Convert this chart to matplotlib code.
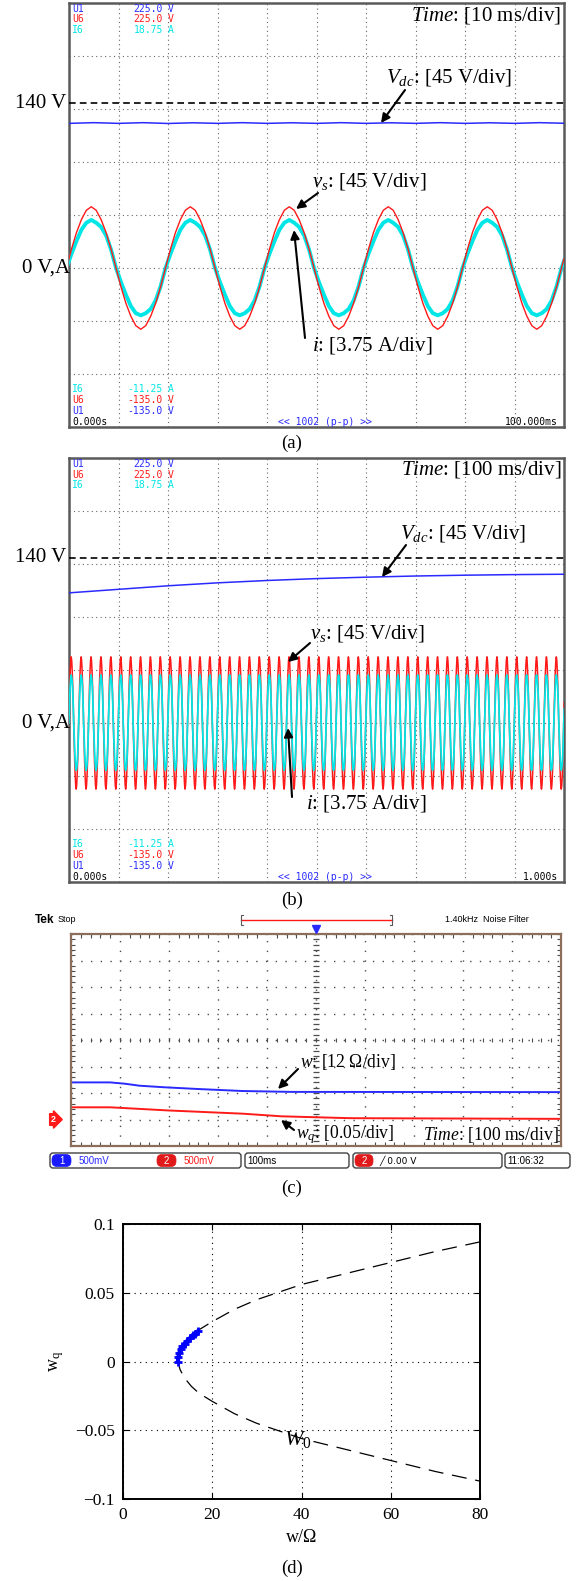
import matplotlib
matplotlib.use('Agg')
import matplotlib.pyplot as plt
import numpy as np
from matplotlib.patches import FancyBboxPatch

plt.rcParams['font.family'] = ['Liberation Serif', 'DejaVu Sans']
plt.rcParams['mathtext.fontset'] = 'custom'
plt.rcParams['mathtext.rm'] = 'Liberation Serif'
plt.rcParams['mathtext.it'] = 'Liberation Serif:italic'
plt.rcParams['mathtext.bf'] = 'Liberation Serif:bold'

W, H = 583, 1581

# ---------------- data ----------------
# (a)/(b): one 50 Hz cycle of source voltage and current, 1 ms steps
vs_cycle = [0, 16, 30, 41, 49, 52, 49, 41, 30, 16,
            0, -16, -30, -41, -49, -52, -49, -41, -30, -16]          # V
i_cycle = [0, 1.0, 1.9, 2.7, 3.2, 3.4, 3.2, 2.9, 2.3, 1.3,
           0, -1.0, -1.9, -2.7, -3.2, -3.35, -3.2, -2.9, -2.3, -1.3]  # A
phase_ms = -0.5

# (a) dc-link voltage, 5 ms steps
vdc_a_t = np.arange(0, 101, 5)
vdc_a = [122.8, 123.4, 122.8, 123.4, 122.7, 123.3, 122.8, 123.4, 122.8, 123.3, 122.8,
         123.4, 122.8, 123.3, 122.8, 123.4, 122.8, 123.3, 122.8, 123.4, 122.9]   # V
# (b) dc-link voltage, 0.1 s steps
vdc_b_t = np.arange(0, 1001, 100)
vdc_b = [110.5, 113.5, 116.5, 119.0, 121.0, 122.6, 123.8, 124.8, 125.5, 126.0, 126.3]  # V
vdc_ref = 140  # V

# (c) parameter estimates
w_t = [0, 80, 110, 140, 190, 260, 350, 450, 1000]          # ms
w_est = [16.8, 16.8, 16.2, 15.3, 14.6, 13.8, 12.9, 12.5, 12.4]  # Ohm
wq_t = [0, 80, 200, 350, 430, 570, 1000]                    # ms
wq_est = [0.023, 0.023, 0.017, 0.011, 0.006, 0.0025, 0.0012]

# (d) boundary W0 and trajectory
w0_curve = [80, 70, 60, 50, 40, 30, 25, 20, 17, 15.3, 13.8, 12.8, 12.3,
            12.8, 13.8, 15.3, 17, 20, 25, 30, 40, 50, 60, 70, 80]
wq0_curve = [0.087, 0.080, 0.072, 0.064, 0.056, 0.045, 0.038, 0.029, 0.023, 0.018, 0.012, 0.006, 0.0,
             -0.006, -0.012, -0.018, -0.023, -0.029, -0.038, -0.045, -0.056, -0.064, -0.072, -0.080, -0.087]
w_traj = [12.3, 12.4, 12.6, 12.9, 13.3, 13.8, 14.4, 15.0, 15.6, 16.2, 16.8]
wq_traj = [0.0, 0.003, 0.006, 0.009, 0.011, 0.013, 0.015, 0.017, 0.019, 0.020, 0.022]

BLUE = '#2a2aff'
RED = '#ff1a1a'
CYAN = '#00e6e6'
MONO = 'DejaVu Sans Mono'
SANS = 'Liberation Sans'


def box(x0, y0, x1, y1):
    return [x0 / W, 1 - y1 / H, (x1 - x0) / W, (y1 - y0) / H]


fig = plt.figure(figsize=(W / 100, H / 100), dpi=100)


def scope_axes(rect):
    ax = fig.add_axes(rect)
    ax.set_xlim(0, 10)
    ax.set_ylim(-3, 5)
    ax.set_xticks(range(11))
    ax.set_yticks(range(-3, 6))
    ax.grid(True, ls=(0, (1, 3)), color='0.4', lw=0.8)
    ax.tick_params(length=0, labelbottom=False, labelleft=False)
    for s in ax.spines.values():
        s.set_color('#5a5a5a')
        s.set_linewidth(1.8)
    return ax


# ---------------- (a) ----------------
ax_a = scope_axes(box(69, 3, 564, 427))
t_a = phase_ms + np.arange(len(vs_cycle) * 6) * 1.0
ax_a.plot(t_a / 10, np.tile(i_cycle, 6) / 3.75, color=CYAN, lw=2.8, zorder=3)
ax_a.plot(t_a / 10, np.tile(vs_cycle, 6) / 45, color=RED, lw=1.0, zorder=4)
ax_a.plot(vdc_a_t / 10, np.array(vdc_a) / 45, color=BLUE, lw=1.1, zorder=4)
ax_a.axhline(vdc_ref / 45, color='k', ls=(0, (4, 2.5)), lw=1.2, zorder=5)

# ---------------- (b) ----------------
ax_b = scope_axes(box(69, 458, 564, 882))
t_b = phase_ms + np.arange(len(vs_cycle) * 51) * 1.0
ax_b.plot(t_b / 100, np.tile(vs_cycle, 51) / 45 * 1.08, color=RED, lw=1.1, zorder=3)
ax_b.plot(t_b / 100, np.tile(i_cycle, 51) / 3.75, color=CYAN, lw=1.3, zorder=4)
ax_b.plot(vdc_b_t / 100, np.array(vdc_b) / 45, color=BLUE, lw=1.1, zorder=4)
ax_b.axhline(vdc_ref / 45, color='k', ls=(0, (4, 2.5)), lw=1.2, zorder=5)

# ---------------- (c) ----------------
ax_c = fig.add_axes(box(71, 934, 561, 1146))
ax_c.set_xlim(0, 10)
ax_c.set_ylim(0, 8)
ax_c.set_xticks(range(11))
ax_c.set_yticks(range(9))
ax_c.set_xticks(np.arange(0, 10.01, 0.2), minor=True)
ax_c.set_yticks(np.arange(0, 8.01, 0.2), minor=True)
ax_c.grid(True, which='major', ls=(0, (1, 6)), color='0.3', lw=1.0)
ax_c.tick_params(which='both', direction='in', top=True, right=True,
                 labelbottom=False, labelleft=False, color='0.3')
ax_c.tick_params(which='major', length=0)
ax_c.tick_params(which='minor', length=3, width=0.8)
cx = np.arange(0, 10.01, 0.2)
cy = np.arange(0, 8.01, 0.2)
ax_c.plot(cx, np.full_like(cx, 4), '|', color='0.3', ms=3, mew=0.8)
ax_c.plot(np.full_like(cy, 5), cy, '_', color='0.3', ms=4, mew=0.9)
for s in ax_c.spines.values():
    s.set_color('#8c6e5a')
    s.set_linewidth(1.6)
ax_c.plot(np.array(w_t) / 100, np.array(w_est) / 12 + 1, color=BLUE, lw=1.4)
ax_c.plot(np.array(wq_t) / 100, np.array(wq_est) / 0.05 + 1, color=RED, lw=1.4)

# ---------------- (d) ----------------
ax_d = fig.add_axes(box(123, 1224, 480, 1499))
ax_d.plot(w0_curve, wq0_curve, color='k', ls=(0, (12, 7)), lw=0.9)
ax_d.plot(w_traj, wq_traj, color='b', lw=3, marker='+', ms=6, mew=2)
ax_d.set_xlim(0, 80)
ax_d.set_ylim(-0.1, 0.1)
ax_d.set_xticks([0, 20, 40, 60, 80])
ax_d.set_xticklabels(['0', '20', '40', '60', '80'])
ax_d.set_yticks([-0.1, -0.05, 0, 0.05, 0.1])
ax_d.set_yticklabels(['\u22120.1', '\u22120.05', '0', '0.05', '0.1'])
ax_d.grid(True, ls=(0, (1, 4)), color='k', lw=0.8)
ax_d.tick_params(direction='in', top=True, right=True, labelsize=12.5, length=4, pad=6)
for s in ax_d.spines.values():
    s.set_linewidth(1.4)
ax_d.set_xlabel('w/\u03a9', fontsize=13, labelpad=4)
ax_d.set_ylabel(r'$\mathrm{w_q}$', fontsize=13, labelpad=6)
ax_d.text(36, -0.061, r'$W_0$', fontsize=16)

# ---------------- overlay in pixel coordinates ----------------
ov = fig.add_axes([0, 0, 1, 1], zorder=10)
ov.set_xlim(0, W)
ov.set_ylim(H, 0)
ov.axis('off')
ov.patch.set_alpha(0)

arrow = dict(arrowstyle='-|>', color='k', lw=1.5, mutation_scale=13, shrinkA=0, shrinkB=0)
ann = 15
ann_c = 12.7
fs = 7


def scope_text(top, bottom, end_label):
    rows_top = [('U1', '225.0', 'V', BLUE), ('U6', '225.0', 'V', RED), ('I6', '18.75', 'A', CYAN)]
    rows_bot = [('I6', '-11.25', 'A', CYAN), ('U6', '-135.0', 'V', RED), ('U1', '-135.0', 'V', BLUE)]
    for k, (lab, val, unit, c) in enumerate(rows_top):
        y = top + 6 + k * 10.5
        ov.text(72, y, lab, color=c, family=MONO, fontsize=fs, va='center')
        ov.text(163, y, val, color=c, family=MONO, fontsize=fs, va='center', ha='right')
        ov.text(168, y, unit, color=c, family=MONO, fontsize=fs, va='center')
    for k, (lab, val, unit, c) in enumerate(rows_bot):
        y = bottom - 38 + k * 11
        ov.text(72, y, lab, color=c, family=MONO, fontsize=fs, va='center')
        ov.text(163, y, val, color=c, family=MONO, fontsize=fs, va='center', ha='right')
        ov.text(168, y, unit, color=c, family=MONO, fontsize=fs, va='center')
    ov.text(72, bottom - 5, '0.000s', color='k', family=MONO, fontsize=fs, va='center')
    ov.text(325, bottom - 5, '<< 1002 (p-p) >>', color=BLUE, family=MONO, fontsize=fs,
            va='center', ha='center')
    ov.text(558, bottom - 5, end_label, color='k', family=MONO, fontsize=fs, va='center', ha='right')


scope_text(3, 427, '100.000ms')
scope_text(458, 882, '1.000s')

# (a) annotations
ov.text(561, 15, r'$\mathit{Time}$: [10 ms/div]', fontsize=ann, ha='right', va='center')
ov.text(66, 104, '140 V', fontsize=ann, ha='right', va='center')
ov.text(70, 268, '0 V,A', fontsize=ann, ha='right', va='center')
ov.text(386, 78, r'$V_{dc}$: [45 V/div]', fontsize=ann, va='center')
ov.annotate('', xy=(381, 123), xytext=(405, 90), arrowprops=arrow)
ov.text(312, 181, r'$v_s$: [45 V/div]', fontsize=ann, va='center')
ov.annotate('', xy=(296, 209), xytext=(318, 193), arrowprops=arrow)
ov.text(312, 346, r'$i$: [3.75 A/div]', fontsize=ann, va='center')
ov.annotate('', xy=(294, 230), xytext=(305, 338), arrowprops=arrow)
ov.text(292, 443, '(a)', fontsize=13.5, ha='center', va='center')

# (b) annotations
ov.text(561, 470, r'$\mathit{Time}$: [100 ms/div]', fontsize=ann, ha='right', va='center')
ov.text(66, 558, '140 V', fontsize=ann, ha='right', va='center')
ov.text(70, 723, '0 V,A', fontsize=ann, ha='right', va='center')
ov.text(400, 533, r'$V_{dc}$: [45 V/div]', fontsize=ann, va='center')
ov.annotate('', xy=(382, 577), xytext=(406, 545), arrowprops=arrow)
ov.text(310, 633, r'$v_s$: [45 V/div]', fontsize=ann, va='center')
ov.annotate('', xy=(288, 662), xytext=(310, 643), arrowprops=arrow)
ov.text(306, 804, r'$i$: [3.75 A/div]', fontsize=ann, va='center')
ov.annotate('', xy=(288, 728), xytext=(292, 797), arrowprops=arrow)
ov.text(292, 900, '(b)', fontsize=13.5, ha='center', va='center')

# (c) header
ov.text(35, 920, 'Tek', family=SANS, fontsize=8.5, fontweight='bold', va='center')
ov.text(58, 920, 'Stop', family=SANS, fontsize=6.5, va='center')
ov.plot([241, 392], [920, 920], color=RED, lw=1)
ov.plot([243, 241, 241, 243], [915, 915, 925, 925], color='0.35', lw=0.8)
ov.plot([390, 392, 392, 390], [915, 915, 925, 925], color='0.35', lw=0.8)
ov.plot([316], [929], marker='v', color=BLUE, ms=6)
ov.text(445, 920, '1.40kHz  Noise Filter', family=SANS, fontsize=6.5, va='center')
ov.text(51, 1119.5, '2', family=SANS, fontsize=6.5, color='white', fontweight='bold', va='center',
        bbox=dict(boxstyle='rarrow,pad=0.15', fc=RED, ec=RED))

# (c) annotations
ov.text(300, 1062, r'$w$: [12 $\Omega$/div]', fontsize=ann_c, va='center')
ov.annotate('', xy=(278, 1089), xytext=(298, 1069), arrowprops=arrow)
ov.text(296, 1135, r'$w_q$: [0.05/div]', fontsize=ann_c, va='center')
ov.annotate('', xy=(281, 1120), xytext=(294, 1130), arrowprops=arrow)
ov.text(559, 1135, r'$\mathit{Time}$: [100 ms/div]', fontsize=ann_c, ha='right', va='center')

# (c) footer bar
for x0, x1 in [(50, 241), (245, 349), (353, 502), (505, 570)]:
    ov.add_patch(FancyBboxPatch((x0, 1153), x1 - x0, 15, boxstyle='round,pad=0,rounding_size=3',
                                fc='white', ec='0.25', lw=1))
for x0, x1, c in [(52, 71, '#1a1aff'), (157, 176, '#e01a1a'), (355, 373, '#e01a1a')]:
    ov.add_patch(FancyBboxPatch((x0, 1154.5), x1 - x0, 12, boxstyle='round,pad=0,rounding_size=5',
                                fc=c, ec=c, lw=0.5))
ov.text(61.5, 1160.5, '1', family=SANS, fontsize=7, color='white', ha='center', va='center')
ov.text(166.5, 1160.5, '2', family=SANS, fontsize=7, color='white', ha='center', va='center')
ov.text(364, 1160.5, '2', family=SANS, fontsize=7, color='white', ha='center', va='center')
ov.text(79, 1160.5, '500mV', family=SANS, fontsize=7, color=BLUE, va='center')
ov.text(184, 1160.5, '500mV', family=SANS, fontsize=7, color=RED, va='center')
ov.text(247, 1160.5, '100ms', family=SANS, fontsize=7, color='k', va='center')
ov.text(379, 1160.5, '\u2571 0.00 V', family=['DejaVu Sans'], fontsize=6.5, color='k', va='center')
ov.text(507, 1160.5, '11:06:32', family=SANS, fontsize=7, color='k', va='center')
ov.text(292, 1188, '(c)', fontsize=13.5, ha='center', va='center')

ov.text(292, 1568, '(d)', fontsize=13.5, ha='center', va='center')

fig.savefig('out.png', dpi=100)
